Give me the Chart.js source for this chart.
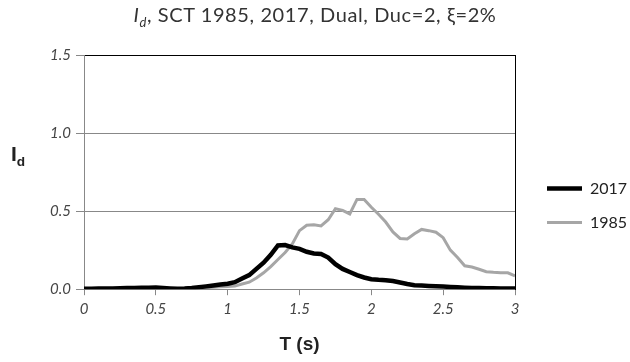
<!DOCTYPE html>
<html>
<head>
<meta charset="utf-8">
<script src="https://cdn.jsdelivr.net/npm/chart.js@4.4.0/dist/chart.umd.min.js"></script>
<style>
  body { margin: 0; background: #fff; }
  #wrap { position: relative; width: 630px; height: 362px; }
  #title {
    position: absolute; left: 0; top: 2px; width: 630px; text-align: center;
    font: 20px Lato, sans-serif; color: #333; letter-spacing: 0.6px;
  }
  #ylab {
    position: absolute; left: 11px; top: 142px;
    font: bold 21px "Liberation Sans", Arial, sans-serif; color: #222;
  }
  sub { font-size: 65%; }
</style>
</head>
<body>
<div id="wrap">
  <canvas id="idChart" width="630" height="362"></canvas>
  <div id="title"><i>I<sub>d</sub></i>, SCT 1985, 2017, Dual, Duc=2, ξ=2%</div>
  <div id="ylab">I<sub>d</sub></div>
</div>
<script>
// periodo T (s)
const periods = [
  0.00, 0.05, 0.10, 0.15, 0.20, 0.25, 0.30, 0.35, 0.40, 0.45,
  0.50, 0.55, 0.60, 0.65, 0.70, 0.75, 0.80, 0.85, 0.90, 0.95,
  1.00, 1.05, 1.10, 1.15, 1.20, 1.25, 1.30, 1.35, 1.40, 1.45,
  1.50, 1.55, 1.60, 1.65, 1.70, 1.75, 1.80, 1.85, 1.90, 1.95,
  2.00, 2.05, 2.10, 2.15, 2.20, 2.25, 2.30, 2.35, 2.40, 2.45,
  2.50, 2.55, 2.60, 2.65, 2.70, 2.75, 2.80, 2.85, 2.90, 2.95,
  3.00
];

// Id, reglamento 2017
const id2017 = [
  0.003, 0.003, 0.004, 0.004, 0.005, 0.006, 0.007, 0.008, 0.009, 0.010,
  0.011, 0.008, 0.005, 0.003, 0.004, 0.007, 0.012, 0.018, 0.024, 0.030,
  0.035, 0.045, 0.068, 0.090, 0.130, 0.170, 0.220, 0.280, 0.283, 0.268,
  0.258, 0.240, 0.229, 0.226, 0.203, 0.160, 0.130, 0.110, 0.090, 0.075,
  0.064, 0.060, 0.058, 0.052, 0.043, 0.033, 0.026, 0.023, 0.021, 0.019,
  0.017, 0.014, 0.012, 0.010, 0.008, 0.007, 0.006, 0.006, 0.005, 0.005,
  0.005
];

// Id, reglamento 1985
const id1985 = [
  0.004, 0.004, 0.004, 0.004, 0.004, 0.004, 0.004, 0.003, 0.003, 0.002,
  0.002, 0.001, 0.001, 0.002, 0.004, 0.006, 0.008, 0.010, 0.012, 0.015,
  0.017, 0.020, 0.033, 0.045, 0.072, 0.105, 0.145, 0.190, 0.235, 0.290,
  0.375, 0.410, 0.412, 0.405, 0.445, 0.515, 0.505, 0.482, 0.575, 0.575,
  0.525, 0.480, 0.430, 0.367, 0.325, 0.322, 0.355, 0.383, 0.375, 0.365,
  0.330, 0.250, 0.203, 0.150, 0.142, 0.128, 0.112, 0.108, 0.106, 0.105,
  0.085
];

const seriesNames = ['2017', '1985'];

function toPoints(values) {
    return periods.map((t, i) => ({ x: t, y: values[i] }));
}

const tickFont = { family: 'Lato, sans-serif', size: 15, style: 'italic' };

const ctx = document.getElementById('idChart').getContext('2d');

window.idChart = new Chart(ctx, {
    type: 'line',
    data: {
        datasets: [{
            label: seriesNames[0],
            data: toPoints(id2017),
            borderColor: '#000000',
            borderWidth: 4.5,
            pointRadius: 0,
            tension: 0
        }, {
            label: seriesNames[1],
            data: toPoints(id1985),
            borderColor: '#a6a6a6',
            borderWidth: 3,
            pointRadius: 0,
            tension: 0
        }]
    },
    options: {
        responsive: false,
        animation: false,
        layout: { padding: { top: 55, left: 0, right: 0, bottom: 6 } },
        plugins: {
            title: { display: false },
            tooltip: { enabled: false },
            legend: {
                position: 'right',
                maxWidth: 101,
                labels: {
                    usePointStyle: true,
                    pointStyleWidth: 35,
                    padding: 18,
                    color: '#222',
                    font: { family: 'Lato, sans-serif', size: 16 },
                    generateLabels: (chart) => chart.data.datasets.map((ds, i) => ({
                        text: ds.label,
                        strokeStyle: ds.borderColor,
                        fillStyle: ds.borderColor,
                        lineWidth: ds.borderWidth,
                        pointStyle: 'line',
                        fontColor: '#222',
                        datasetIndex: i
                    }))
                }
            }
        },
        scales: {
            x: {
                type: 'linear',
                min: 0,
                max: 3,
                ticks: {
                    stepSize: 0.5,
                    font: tickFont,
                    color: '#444',
                    padding: 5,
                    callback: (v) => String(v)
                },
                grid: {
                    color: (c) => c.tick && c.tick.value === 3 ? '#000' : 'rgba(0,0,0,0)',
                    tickColor: '#888',
                    tickLength: 6
                },
                border: { color: '#888' },
                title: {
                    display: true,
                    text: 'T (s)',
                    color: '#222',
                    font: { family: '"Liberation Sans", Arial, sans-serif', size: 19, weight: 'bold' },
                    padding: { top: 10, bottom: 0 }
                }
            },
            y: {
                min: 0,
                max: 1.5,
                ticks: {
                    stepSize: 0.5,
                    font: tickFont,
                    color: '#444',
                    padding: 5,
                    callback: (v) => v.toFixed(1)
                },
                grid: {
                    color: (c) => c.tick && c.tick.value === 1.5 ? '#000' : '#888',
                    tickColor: '#888',
                    tickLength: 8
                },
                border: { color: '#888' },
                afterFit: (scale) => { scale.width = 84; }
            },
            y2: {
                position: 'right',
                min: 0,
                max: 1.5,
                ticks: { display: false },
                grid: { display: false },
                border: { display: true, color: '#000' },
                afterFit: (scale) => { scale.width = 14; }
            }
        }
    }
});
</script>
</body>
</html>
